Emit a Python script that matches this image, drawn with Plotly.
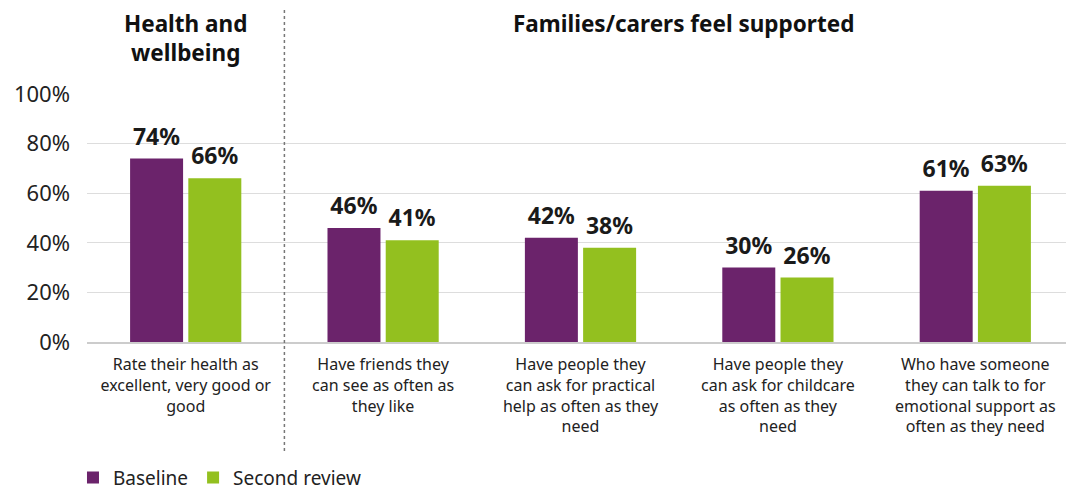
import plotly.graph_objects as go

categories = [
    "Rate their health as<br>excellent, very good or<br>good",
    "Have friends they<br>can see as often as<br>they like",
    "Have people they<br>can ask for practical<br>help as often as they<br>need",
    "Have people they<br>can ask for childcare<br>as often as they<br>need",
    "Who have someone<br>they can talk to for<br>emotional support as<br>often as they need",
]
baseline = [74, 46, 42, 30, 61]
second_review = [66, 41, 38, 26, 63]

FONT = "Noto Sans"
PURPLE = "#6B236B"
GREEN = "#93C01F"
LABEL_PAD = 1.6  # gap (in % units) between bar top and its value label

fig = go.Figure()
for name, values, color, grp in [("Baseline", baseline, PURPLE, "a"),
                                 ("Second review", second_review, GREEN, "b")]:
    fig.add_trace(go.Bar(
        x=categories, y=values, name=name, marker_color=color,
        marker_line_width=0, offsetgroup=grp, hoverinfo="y",
    ))
    # transparent spacer bar carrying the value label a little above the bar
    fig.add_trace(go.Bar(
        x=categories, y=[LABEL_PAD] * len(values), base=values,
        offsetgroup=grp, marker_color="rgba(0,0,0,0)", marker_line_width=0,
        showlegend=False, hoverinfo="skip",
        text=[f"{v}%" for v in values], textposition="outside",
        textfont=dict(size=23, color="#1a1a1a", family=FONT, weight="bold"),
        cliponaxis=False,
    ))

# divider between the two sections
fig.add_shape(type="line", xref="x", yref="paper", x0=0.5, x1=0.5, y0=-0.44, y1=1.34,
              line=dict(color="#777777", width=1.5, dash="dot"))

fig.add_annotation(x=0, y=1.35, xref="x", yref="paper", yanchor="top", showarrow=False,
                   text="<b>Health and<br>wellbeing</b>", borderpad=0,
                   font=dict(size=22.5, color="#111111", family=FONT))
fig.add_annotation(x=2.52, y=1.35, xref="x", yref="paper", yanchor="top", showarrow=False,
                   text="<b>Families/carers feel supported</b>", borderpad=0,
                   font=dict(size=22.5, color="#111111", family=FONT))

# page body has an 8px margin, so the figure is drawn 8px smaller
fig.update_layout(
    width=1066, height=482,
    plot_bgcolor="white", paper_bgcolor="white",
    margin=dict(l=79, r=0, t=86, b=148, autoexpand=False),
    barmode="group", bargap=0.41, bargroupgap=0.09,
    font=dict(family=FONT, color="#222222"),
    legend=dict(orientation="h", x=-0.0142, xanchor="left", y=-0.47, yanchor="top",
                font=dict(size=19, color="#222222"), traceorder="normal"),
)
fig.update_yaxes(range=[0, 100], dtick=20, ticksuffix="%", showgrid=True,
                 gridcolor="#dddddd", gridwidth=1, zeroline=False, automargin=False,
                 tickfont=dict(size=22, color="#222222"), ticks="", ticklabelstandoff=16)
fig.update_xaxes(showline=True, linecolor="#cccccc", linewidth=1.5, automargin=False,
                 tickfont=dict(size=16, color="#222222"), ticks="", ticklabelstandoff=7)

fig.write_html("out.html")
